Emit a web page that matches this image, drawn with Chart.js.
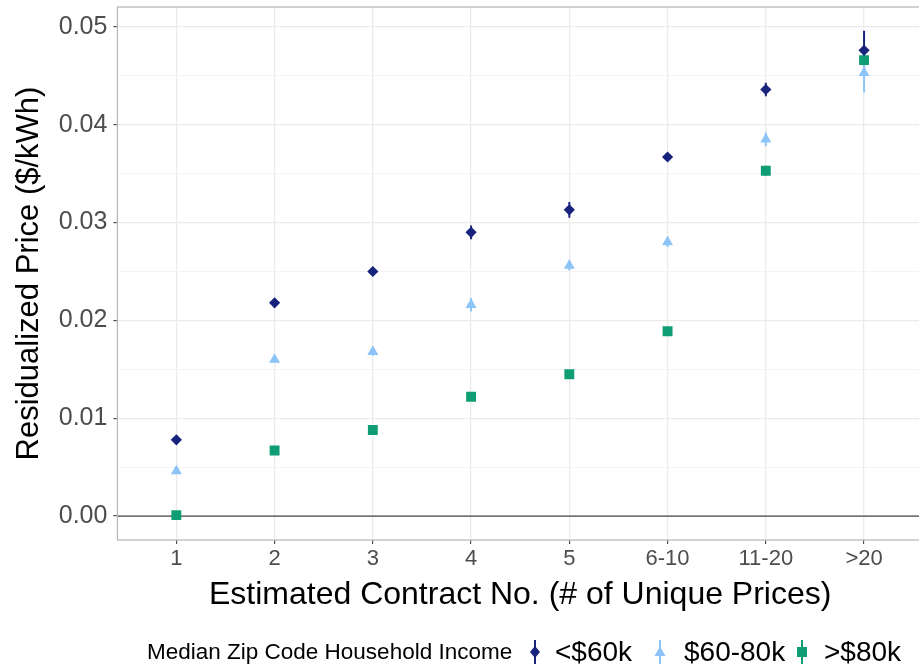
<!DOCTYPE html>
<html>
<head>
<meta charset="utf-8">
<script src="https://cdn.jsdelivr.net/npm/chart.js@4/dist/chart.umd.min.js"></script>
<style>
  html, body { margin: 0; padding: 0; background: #fff; overflow: hidden; }
  #wrap { position: relative; width: 919px; height: 667px; overflow: hidden; }
  #c { position: absolute; left: 0; top: 0; }
  #legend {
    position: absolute; left: 0; top: 634px; width: 919px; height: 36px;
    font-family: "Liberation Sans", Arial, sans-serif; color: #000; white-space: nowrap;
  }
  #legend > * { position: absolute; top: 0; line-height: 36px; }
  #legend .ttl { font-size: 22.5px; }
  #legend .key { width: 16px; height: 30px; top: 3px; }
  #legend .lab { font-size: 28px; }
</style>
</head>
<body>
<div id="wrap">
  <canvas id="c" width="930" height="667" style="width:930px;height:667px"></canvas>
  <div id="legend"></div>
</div>
<script>
// Contract-count buckets on the x axis
const categories = ['1', '2', '3', '4', '5', '6-10', '11-20', '>20'];

// Residualized price ($/kWh) by income group
const incomeLow  = [0.0078, 0.0218, 0.0250, 0.0290, 0.0313, 0.0367, 0.0436, 0.0476];
const incomeMid  = [0.0046, 0.0160, 0.0168, 0.0216, 0.0256, 0.0280, 0.0385, 0.0453];
const incomeHigh = [0.0001, 0.0067, 0.0088, 0.0122, 0.0145, 0.0189, 0.0353, 0.0466];

// Half-widths of the confidence intervals
const errLow  = [0.0003, 0.0003, 0.0004, 0.0007, 0.0008, 0.0004, 0.0007, 0.0020];
const errMid  = [0.0003, 0.0003, 0.0004, 0.0007, 0.0005, 0.0005, 0.0007, 0.0020];
const errHigh = [0.0002, 0.0003, 0.0003, 0.0003, 0.0004, 0.0003, 0.0005, 0.0005];

// Legend labels and axis text
const seriesLabels = ['<$60k', '$60-80k', '>$80k'];
const legendTitle = 'Median Zip Code Household Income';
const yTitle = 'Residualized Price ($/kWh)';
const xTitle = 'Estimated Contract No. (# of Unique Prices)';

// Axis ticks (major every 0.01, minor every 0.005)
const yTicks = [0, 0.005, 0.01, 0.015, 0.02, 0.025, 0.03, 0.035, 0.04, 0.045, 0.05];
const yMajor = [0, 0.01, 0.02, 0.03, 0.04, 0.05];
const yMin = -0.00244, yMax = 0.05203;
const zeroLine = 0;

const colors = ['#18237d', '#8cc4f8', '#0f9e74'];
const shapes = ['rectRot', 'triangle', 'rect'];
const radii = [5.6, 6.4, 7];

const values = [incomeLow, incomeMid, incomeHigh];
const errors = [errLow, errMid, errHigh];

const FONT = '"Liberation Sans", Arial, sans-serif';
const isMajor = v => yMajor.some(m => Math.abs(m - v) < 1e-9);

const datasets = values.map((vals, k) => ({
  label: seriesLabels[k],
  data: vals.map((v, i) => ({ x: i, y: v })),
  showLine: false,
  pointStyle: shapes[k],
  pointRadius: radii[k],
  pointHoverRadius: radii[k],
  backgroundColor: colors[k],
  borderColor: colors[k],
  borderWidth: 0,
  errors: errors[k]
}));

// Error bars and the zero reference line, drawn under the markers
const underlay = {
  id: 'underlay',
  beforeDatasetsDraw(chart) {
    const { ctx, chartArea: a, scales: { x, y } } = chart;
    ctx.save();
    ctx.beginPath();
    ctx.rect(a.left, a.top, a.right - a.left, a.bottom - a.top);
    ctx.clip();
    const zy = y.getPixelForValue(zeroLine);
    ctx.strokeStyle = '#4a4a4a';
    ctx.lineWidth = 1.3;
    ctx.beginPath();
    ctx.moveTo(a.left, zy);
    ctx.lineTo(a.right, zy);
    ctx.stroke();
    chart.data.datasets.forEach(ds => {
      ctx.strokeStyle = ds.borderColor;
      ctx.lineWidth = 2;
      ds.data.forEach((p, i) => {
        const e = ds.errors[i];
        const px = x.getPixelForValue(p.x);
        ctx.beginPath();
        ctx.moveTo(px, y.getPixelForValue(p.y - e));
        ctx.lineTo(px, y.getPixelForValue(p.y + e));
        ctx.stroke();
      });
    });
    ctx.restore();
  },
  afterDraw(chart) {
    const { ctx, chartArea: a } = chart;
    ctx.save();
    ctx.strokeStyle = '#bababa';
    ctx.lineWidth = 1.3;
    ctx.strokeRect(a.left, a.top, a.right - a.left, a.bottom - a.top);
    ctx.restore();
  }
};

new Chart(document.getElementById('c'), {
  type: 'scatter',
  data: { datasets },
  plugins: [underlay],
  options: {
    responsive: false,
    animation: false,
    events: [],
    layout: { padding: { left: 0, top: 4, right: 1.7, bottom: 50 } },
    plugins: { legend: { display: false }, tooltip: { enabled: false } },
    scales: {
      x: {
        type: 'linear',
        min: -0.6,
        max: categories.length - 1 + 0.6,
        afterBuildTicks: s => { s.ticks = categories.map((c, i) => ({ value: i })); },
        afterFit: s => { s.height = 77; s.paddingLeft = 0; s.paddingRight = 0; },
        border: { display: false },
        grid: { color: '#ebebeb', lineWidth: 1.3, tickLength: 4, tickColor: '#333', tickWidth: 1 },
        ticks: {
          autoSkip: false, maxRotation: 0, padding: 2,
          color: '#4d4d4d', font: { family: FONT, size: 22 },
          callback: v => categories[v]
        },
        title: {
          display: true, text: xTitle, color: '#000',
          font: { family: FONT, size: 32 }, padding: { top: 0, bottom: 3 }
        }
      },
      y: {
        min: yMin,
        max: yMax,
        afterBuildTicks: s => { s.ticks = yTicks.map(v => ({ value: v })); },
        afterFit: s => { s.width = 117.4; s.paddingTop = 0; s.paddingBottom = 0; },
        border: { display: false },
        grid: {
          color: c => isMajor(c.tick.value) ? '#ebebeb' : '#f4f4f4',
          lineWidth: c => isMajor(c.tick.value) ? 1.3 : 1,
          tickLength: 4,
          tickColor: c => isMajor(c.tick.value) ? '#333' : 'rgba(0,0,0,0)',
          tickWidth: 1
        },
        ticks: {
          autoSkip: false, padding: 6,
          color: '#4d4d4d', font: { family: FONT, size: 25 },
          callback: v => isMajor(v) ? v.toFixed(2) : ''
        },
        title: {
          display: true, text: yTitle, color: '#000',
          font: { family: FONT, size: 31 }, padding: { top: 11, bottom: 0 }
        }
      }
    }
  }
});

// Legend: title followed by a point-range key per income group
const legendTitleX = 147;
const keyX = [527, 652, 794];
const labelX = [555, 684, 824];
function keySvg(k) {
  const c = colors[k];
  let mark;
  if (k === 0) mark = `<polygon points="8,9 13,15 8,21 3,15" fill="${c}"/>`;
  else if (k === 1) mark = `<polygon points="8,9.5 13.5,19 2.5,19" fill="${c}"/>`;
  else mark = `<rect x="3" y="10" width="10" height="10" fill="${c}"/>`;
  return `<svg class="key" style="left:${keyX[k]}px" viewBox="0 0 16 30"><line x1="8" y1="3" x2="8" y2="27" stroke="${c}" stroke-width="2"/>${mark}</svg>`;
}
const esc = s => s.replace('<', '&lt;').replace('>', '&gt;');
let html = `<span class="ttl" style="left:${legendTitleX}px">${legendTitle}</span>`;
seriesLabels.forEach((lab, k) => {
  html += keySvg(k) + `<span class="lab" style="left:${labelX[k]}px">${esc(lab)}</span>`;
});
document.getElementById('legend').innerHTML = html;
</script>
</body>
</html>
